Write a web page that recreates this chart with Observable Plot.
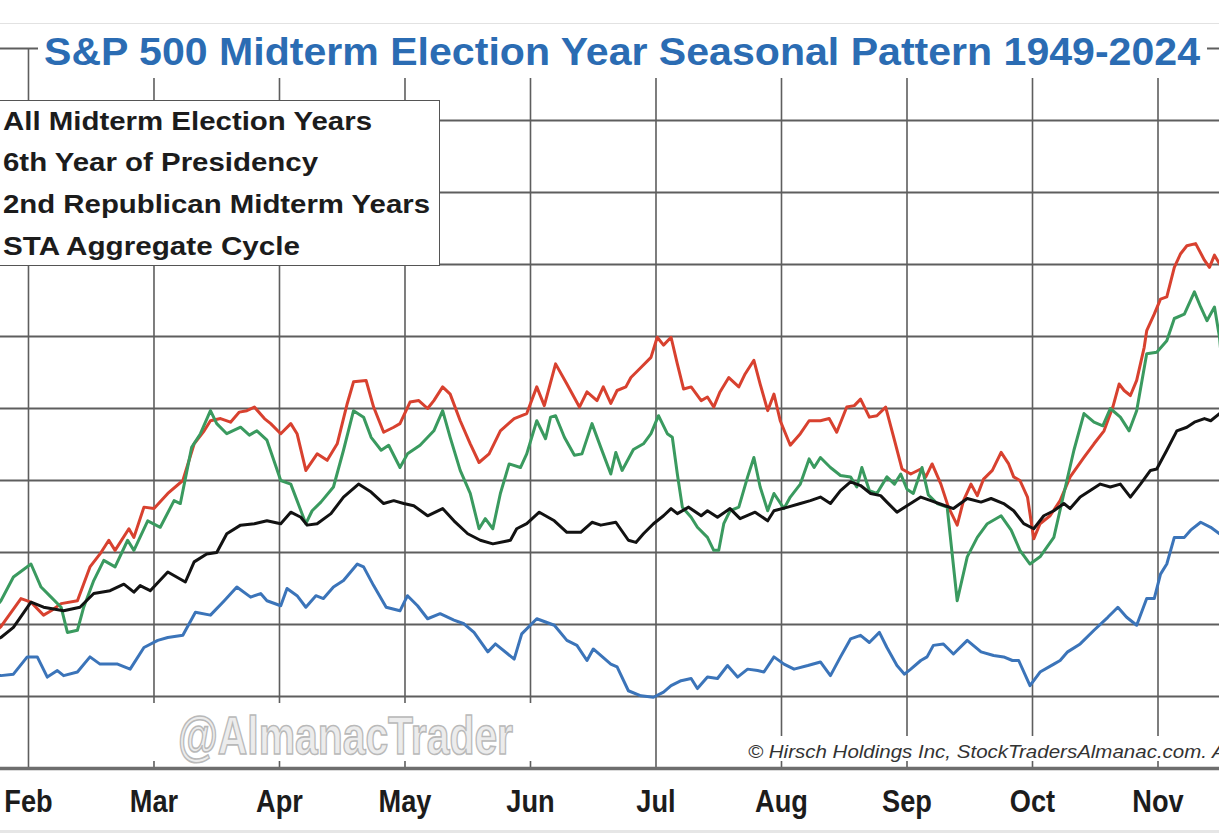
<!DOCTYPE html>
<html>
<head>
<meta charset="utf-8">
<script src="https://cdn.jsdelivr.net/npm/d3@7"></script>
<script src="https://cdn.jsdelivr.net/npm/@observablehq/plot@0.6"></script>
<style>
  html, body { margin: 0; padding: 0; background: #fff; }
  #wrap { position: relative; width: 1219px; height: 833px; overflow: hidden; background: #fff; }
  #chart { position: absolute; left: 0; top: 0; }
  .ov { position: absolute; white-space: nowrap; line-height: 1; transform-origin: 0 0; }
  .box { position: absolute; background: #fff; }
  #title { left: 44px; top: 30px; font: bold 39px "Liberation Sans", Arial, sans-serif; color: #2b6cb3; }
  .leg { left: 3px; font: bold 25px "Liberation Sans", Arial, sans-serif; color: #1c1c1c; }
  #wm { left: 178px; top: 704px; font: bold 54px "Liberation Sans", Arial, sans-serif;
        color: #ececec; -webkit-text-stroke: 1.6px #b9b9b9; }
  #copy { left: 748px; top: 742px; font: italic 18px "Liberation Sans", Arial, sans-serif; color: #333; }
</style>
</head>
<body>
<div id="wrap">
  <div id="chart"></div>
  <div class="box" style="left:0;top:0;width:1219px;height:23px;border-bottom:1px solid #e2e2e2;"></div>
  <div class="box" style="left:0;top:830px;width:1219px;height:3px;background:#e6e6e6;"></div>
  <div class="box" style="left:38px;top:24px;width:1169px;height:54px;"></div>
  <div class="box" style="left:142px;top:703px;width:416px;height:58px;"></div>
  <div class="box" style="left:741px;top:736px;width:478px;height:25px;"></div>
  <div class="box" style="left:-2px;top:100px;width:440px;height:164px;border:1.5px solid #555;"></div>
  <div class="ov" id="title" data-fit="1156">S&amp;P 500 Midterm Election Year Seasonal Pattern 1949-2024</div>
  <div class="ov leg" style="top:107px" data-fit="369">All Midterm Election Years</div>
  <div class="ov leg" style="top:148px" data-fit="315">6th Year of Presidency</div>
  <div class="ov leg" style="top:190px" data-fit="427">2nd Republican Midterm Years</div>
  <div class="ov leg" style="top:232px" data-fit="297">STA Aggregate Cycle</div>
  <div class="ov" id="wm" data-fit="335">@AlmanacTrader</div>
  <div class="ov" id="copy"><span id="copyA">© Hirsch Holdings Inc, StockTradersAlmanac.com.</span> All rights reserved.</div>
</div>
<script>
// ---- Data (x = month number, gridline at the start of each month; y = chart grid units) ----
const monthTicks = [2, 3, 4, 5, 6, 7, 8, 9, 10, 11];
const monthLabels = ["Feb", "Mar", "Apr", "May", "Jun", "Jul", "Aug", "Sep", "Oct", "Nov"];
const gridLevels = [1, 2, 3, 4, 5, 6, 7, 8, 9, 10];

const seriesNames = ["All Midterm Election Years", "6th Year of Presidency", "2nd Republican Midterm Years", "STA Aggregate Cycle"];
const seriesColors = ["#3b74b9", "#d8412f", "#3a9a5f", "#121212"];

const allMidtermYears = [[1.70,1.29],[1.78,1.29],[1.88,1.31],[1.99,1.55],[2.07,1.55],[2.15,1.27],[2.23,1.36],[2.28,1.29],[2.39,1.34],[2.49,1.55],[2.57,1.45],[2.71,1.45],[2.81,1.38],[2.92,1.68],[3.03,1.78],[3.11,1.82],[3.23,1.85],[3.33,2.17],[3.45,2.13],[3.56,2.33],[3.66,2.52],[3.77,2.38],[3.85,2.43],[3.90,2.33],[4.01,2.26],[4.06,2.50],[4.14,2.40],[4.21,2.24],[4.29,2.40],[4.35,2.36],[4.43,2.52],[4.51,2.61],[4.62,2.84],[4.67,2.80],[4.75,2.54],[4.85,2.24],[4.96,2.19],[5.02,2.40],[5.10,2.26],[5.18,2.08],[5.28,2.15],[5.39,2.06],[5.47,2.01],[5.55,1.89],[5.66,1.62],[5.72,1.73],[5.87,1.52],[5.93,1.87],[6.05,2.08],[6.19,1.99],[6.29,1.78],[6.37,1.71],[6.45,1.50],[6.50,1.66],[6.64,1.45],[6.69,1.41],[6.78,1.08],[6.88,1.01],[6.98,0.99],[7.06,1.06],[7.12,1.15],[7.20,1.22],[7.28,1.25],[7.33,1.11],[7.41,1.27],[7.49,1.25],[7.57,1.43],[7.65,1.27],[7.73,1.38],[7.81,1.36],[7.86,1.34],[7.94,1.55],[8.02,1.45],[8.10,1.38],[8.21,1.43],[8.31,1.48],[8.39,1.29],[8.47,1.55],[8.55,1.80],[8.63,1.85],[8.70,1.75],[8.78,1.89],[8.84,1.68],[8.92,1.43],[8.98,1.31],[9.03,1.38],[9.11,1.50],[9.16,1.55],[9.21,1.71],[9.29,1.73],[9.37,1.59],[9.48,1.78],[9.59,1.62],[9.69,1.57],[9.77,1.55],[9.84,1.50],[9.89,1.50],[9.98,1.15],[10.06,1.34],[10.17,1.45],[10.22,1.50],[10.28,1.62],[10.38,1.73],[10.49,1.92],[10.60,2.10],[10.68,2.24],[10.75,2.10],[10.83,1.99],[10.91,2.36],[10.97,2.36],[11.02,2.70],[11.07,2.84],[11.13,3.21],[11.21,3.21],[11.26,3.31],[11.34,3.42],[11.42,3.35],[11.49,3.26],[11.55,3.20]];

const sixthYearOfPresidency = [[1.70,1.85],[1.78,1.97],[1.94,2.36],[2.02,2.31],[2.12,2.13],[2.18,2.19],[2.26,2.29],[2.39,2.33],[2.49,2.80],[2.57,2.98],[2.64,3.17],[2.69,3.03],[2.80,3.33],[2.84,3.21],[2.92,3.63],[3.00,3.61],[3.11,3.82],[3.23,4.00],[3.32,4.51],[3.40,4.69],[3.45,4.83],[3.53,4.86],[3.61,4.81],[3.68,4.95],[3.74,4.97],[3.80,5.02],[3.88,4.86],[3.93,4.79],[4.01,4.65],[4.09,4.79],[4.14,4.65],[4.21,4.14],[4.30,4.37],[4.38,4.28],[4.46,4.51],[4.54,5.07],[4.59,5.37],[4.69,5.39],[4.75,5.02],[4.83,4.67],[4.91,4.74],[4.96,4.79],[5.04,5.09],[5.11,5.11],[5.18,5.00],[5.23,5.11],[5.30,5.30],[5.36,5.20],[5.44,4.83],[5.52,4.51],[5.59,4.25],[5.67,4.37],[5.76,4.69],[5.87,4.86],[5.97,4.93],[6.05,5.30],[6.11,5.04],[6.20,5.62],[6.29,5.34],[6.39,5.02],[6.45,5.23],[6.53,5.11],[6.58,5.30],[6.64,5.07],[6.69,5.25],[6.76,5.30],[6.80,5.43],[6.88,5.57],[6.96,5.71],[7.01,5.99],[7.06,5.88],[7.12,5.99],[7.17,5.62],[7.22,5.27],[7.28,5.30],[7.36,5.11],[7.41,5.16],[7.46,5.02],[7.51,5.23],[7.58,5.43],[7.66,5.30],[7.71,5.48],[7.78,5.67],[7.83,5.34],[7.89,4.97],[7.94,5.20],[7.99,4.83],[8.07,4.49],[8.15,4.65],[8.22,4.83],[8.31,4.83],[8.38,4.86],[8.44,4.67],[8.52,5.02],[8.58,5.04],[8.63,5.13],[8.70,4.88],[8.76,4.90],[8.83,5.02],[8.90,4.56],[8.96,4.16],[9.03,4.09],[9.11,4.16],[9.15,4.05],[9.20,4.23],[9.27,3.95],[9.33,3.63],[9.40,3.38],[9.45,3.72],[9.51,3.95],[9.56,3.79],[9.61,4.02],[9.68,4.14],[9.75,4.39],[9.81,4.23],[9.85,4.05],[9.90,4.00],[9.96,3.77],[10.01,3.19],[10.06,3.40],[10.14,3.51],[10.22,3.72],[10.30,4.05],[10.41,4.32],[10.49,4.51],[10.57,4.69],[10.64,5.02],[10.69,5.34],[10.73,5.25],[10.78,5.18],[10.83,5.39],[10.89,5.85],[10.91,6.08],[10.97,6.31],[11.02,6.52],[11.07,6.55],[11.13,6.96],[11.18,7.15],[11.23,7.26],[11.30,7.29],[11.37,7.06],[11.41,6.96],[11.45,7.13],[11.49,7.01],[11.55,6.90]];

const secondRepublicanMidterms = [[1.70,2.15],[1.78,2.33],[1.88,2.66],[2.02,2.84],[2.10,2.52],[2.18,2.38],[2.26,2.24],[2.31,1.89],[2.39,1.92],[2.44,2.24],[2.52,2.61],[2.60,2.89],[2.69,2.80],[2.79,3.17],[2.84,3.03],[2.95,3.44],[3.05,3.35],[3.16,3.72],[3.21,3.68],[3.30,4.46],[3.37,4.65],[3.45,4.97],[3.50,4.79],[3.58,4.65],[3.69,4.74],[3.76,4.63],[3.82,4.69],[3.90,4.56],[4.01,4.00],[4.09,3.95],[4.21,3.40],[4.26,3.58],[4.33,3.70],[4.43,3.91],[4.51,4.42],[4.59,4.97],[4.67,4.88],[4.73,4.60],[4.81,4.42],[4.87,4.49],[4.96,4.18],[5.02,4.37],[5.12,4.49],[5.23,4.69],[5.30,4.97],[5.36,4.60],[5.44,4.14],[5.52,3.82],[5.59,3.33],[5.64,3.47],[5.70,3.33],[5.76,3.82],[5.83,4.23],[5.92,4.18],[5.97,4.37],[6.05,4.83],[6.12,4.58],[6.16,4.88],[6.20,4.90],[6.27,4.60],[6.35,4.35],[6.41,4.37],[6.49,4.79],[6.56,4.46],[6.64,4.09],[6.68,4.39],[6.73,4.14],[6.82,4.43],[6.90,4.51],[6.96,4.65],[7.02,4.90],[7.09,4.65],[7.13,4.60],[7.17,4.09],[7.21,3.63],[7.28,3.49],[7.33,3.35],[7.41,3.21],[7.46,3.03],[7.50,3.03],[7.54,3.40],[7.59,3.58],[7.66,3.63],[7.73,4.05],[7.78,4.32],[7.83,3.91],[7.89,3.58],[7.94,3.82],[8.02,3.61],[8.07,3.77],[8.15,3.95],[8.22,4.30],[8.26,4.18],[8.31,4.32],[8.39,4.18],[8.47,4.07],[8.55,4.05],[8.60,3.91],[8.64,4.18],[8.70,3.86],[8.76,3.82],[8.84,4.05],[8.90,3.95],[8.95,4.09],[9.00,3.88],[9.05,3.82],[9.12,4.18],[9.17,3.80],[9.24,3.68],[9.32,3.63],[9.40,2.33],[9.48,2.94],[9.56,3.21],[9.64,3.40],[9.75,3.51],[9.83,3.31],[9.90,3.03],[9.98,2.84],[10.06,2.94],[10.17,3.21],[10.25,3.82],[10.33,4.42],[10.41,4.93],[10.49,4.81],[10.56,4.76],[10.62,5.00],[10.70,4.88],[10.77,4.69],[10.83,4.97],[10.91,5.76],[10.99,5.78],[11.07,5.94],[11.13,6.25],[11.21,6.31],[11.29,6.62],[11.34,6.41],[11.39,6.22],[11.45,6.41],[11.49,5.99],[11.52,5.40]];

const staAggregateCycle = [[1.70,1.75],[1.78,1.82],[1.88,1.96],[2.02,2.31],[2.12,2.24],[2.28,2.19],[2.41,2.24],[2.52,2.43],[2.65,2.47],[2.76,2.56],[2.84,2.45],[2.89,2.54],[2.97,2.47],[3.11,2.73],[3.25,2.59],[3.32,2.87],[3.42,2.98],[3.50,3.00],[3.58,3.26],[3.69,3.38],[3.80,3.40],[3.90,3.44],[4.01,3.40],[4.09,3.56],[4.17,3.49],[4.22,3.38],[4.30,3.40],[4.41,3.54],[4.51,3.77],[4.63,3.95],[4.73,3.84],[4.83,3.68],[4.91,3.72],[4.99,3.68],[5.07,3.65],[5.18,3.51],[5.30,3.61],[5.39,3.44],[5.50,3.26],[5.60,3.17],[5.70,3.12],[5.84,3.17],[5.89,3.33],[5.97,3.40],[6.07,3.56],[6.19,3.44],[6.29,3.28],[6.40,3.28],[6.49,3.42],[6.56,3.38],[6.68,3.42],[6.78,3.17],[6.84,3.14],[6.90,3.26],[6.98,3.40],[7.06,3.51],[7.12,3.61],[7.17,3.54],[7.26,3.63],[7.36,3.51],[7.41,3.58],[7.49,3.49],[7.59,3.61],[7.67,3.47],[7.79,3.56],[7.89,3.44],[7.94,3.58],[8.05,3.63],[8.15,3.68],[8.23,3.72],[8.31,3.77],[8.39,3.68],[8.47,3.86],[8.55,3.98],[8.63,3.93],[8.71,3.82],[8.79,3.79],[8.84,3.70],[8.92,3.56],[9.00,3.65],[9.11,3.77],[9.19,3.72],[9.27,3.67],[9.37,3.61],[9.48,3.75],[9.59,3.70],[9.67,3.75],[9.77,3.68],[9.85,3.58],[9.93,3.40],[10.01,3.33],[10.09,3.51],[10.17,3.58],[10.25,3.68],[10.30,3.61],[10.38,3.77],[10.46,3.86],[10.54,3.95],[10.62,3.91],[10.70,3.95],[10.78,3.77],[10.86,3.95],[10.94,4.14],[10.99,4.16],[11.07,4.42],[11.15,4.69],[11.23,4.74],[11.29,4.81],[11.37,4.86],[11.42,4.83],[11.49,4.93],[11.55,4.95]];

// ---- Build long table (draw order: blue, red, green, black) ----
const seriesData = [allMidtermYears, sixthYearOfPresidency, secondRepublicanMidterms, staAggregateCycle];
const rows = [];
seriesData.forEach((pts, i) => pts.forEach(([m, v]) => rows.push({series: seriesNames[i], month: m, value: v})));

const chart = Plot.plot({
  width: 1219,
  height: 833,
  marginTop: 48,
  marginBottom: 65,
  marginLeft: 0,
  marginRight: 0,
  style: {background: "transparent", fontFamily: "'Liberation Sans', Arial, sans-serif", color: "#1a1a1a"},
  x: {domain: [1.777, 11.49], axis: null},
  y: {domain: [0, 10], axis: null},
  color: {domain: seriesNames, range: seriesColors},
  marks: [
    Plot.ruleY(gridLevels, {stroke: "#5e5e5e", strokeWidth: 2}),
    Plot.ruleX(monthTicks, {y1: 0, y2: 10, stroke: "#5e5e5e", strokeWidth: 1.6}),
    Plot.ruleY([0], {stroke: "#6e6e6e", strokeWidth: 3.5}),
    Plot.line(rows, {x: "month", y: "value", z: "series", stroke: "series", strokeWidth: 3, clip: true, curve: "linear"}),
    Plot.axisX(monthTicks, {
      anchor: "bottom",
      label: null,
      tickSize: 0,
      tickPadding: 21,
      tickFormat: (d) => monthLabels[monthTicks.indexOf(d)],
      fontSize: 32,
      fontWeight: "bold",
      fill: "#1c1c1c"
    })
  ]
});
document.getElementById("chart").appendChild(chart);

// condense the month labels horizontally, like the reference's narrow type
chart.querySelectorAll("g[aria-label='x-axis tick label'] text").forEach(t => {
  const tr = t.getAttribute("transform") || "";
  t.setAttribute("transform", tr + " scale(0.85,1)");
});

// ---- fit overlay text widths ----
function fit() {
  document.querySelectorAll("[data-fit]").forEach(el => {
    el.style.transform = "none";
    const w = el.getBoundingClientRect().width;
    const t = +el.dataset.fit;
    if (w > 0) el.style.transform = `scaleX(${t / w})`;
  });
  const c = document.getElementById("copy");
  c.style.transform = "none";
  const wa = document.getElementById("copyA").getBoundingClientRect().width;
  if (wa > 0) c.style.transform = `scaleX(${459 / wa})`;
}
fit();
if (document.fonts && document.fonts.ready) document.fonts.ready.then(fit);
</script>
</body>
</html>
